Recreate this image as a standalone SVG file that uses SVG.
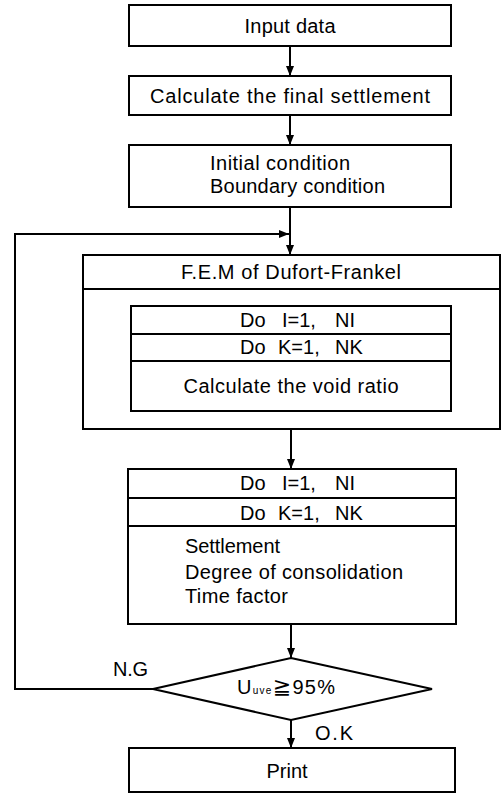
<svg xmlns="http://www.w3.org/2000/svg" width="504" height="795" viewBox="0 0 504 795">
<style>
.box{fill:none;stroke:#000;stroke-width:2}
.ln{fill:none;stroke:#000;stroke-width:2}
text{font-family:"Liberation Sans",Arial,sans-serif;font-size:20px;fill:#000}
.c{text-anchor:middle}
</style>
<defs>
<marker id="ah" viewBox="0 0 10 8" refX="10" refY="4" markerWidth="10" markerHeight="8" markerUnits="userSpaceOnUse" orient="auto">
<path d="M0,0 L10,4 L0,8 Z" fill="#000"/>
</marker>
</defs>
<rect width="504" height="795" fill="#fff"/>
<g id="connectors">
<line class="ln" x1="290" y1="46" x2="290" y2="76" marker-end="url(#ah)"/>
<line class="ln" x1="290" y1="115" x2="290" y2="145" marker-end="url(#ah)"/>
<line class="ln" x1="290" y1="207" x2="290" y2="255" marker-end="url(#ah)"/>
<polyline class="ln" points="153,689 15,689 15,234 289,234" marker-end="url(#ah)"/>
<line class="ln" x1="291" y1="429" x2="291" y2="469" marker-end="url(#ah)"/>
<line class="ln" x1="291" y1="624" x2="291" y2="658" marker-end="url(#ah)"/>
<line class="ln" x1="291" y1="720" x2="291" y2="748" marker-end="url(#ah)"/>
</g>
<g id="input">
<rect class="box" x="129" y="5" width="322" height="41"/>
<text class="c" x="290" y="33" textLength="91">Input data</text>
</g>
<g id="final">
<rect class="box" x="129" y="76" width="322" height="39"/>
<text class="c" x="290" y="103" textLength="280">Calculate the final settlement</text>
</g>
<g id="init">
<rect class="box" x="129" y="145" width="322" height="62"/>
<text x="210" y="170" textLength="140">Initial condition</text>
<text x="210" y="193" textLength="175">Boundary condition</text>
</g>
<g id="fem">
<rect class="box" x="83" y="255" width="417" height="174"/>
<line class="ln" x1="83" y1="289" x2="500" y2="289"/>
<text class="c" x="291" y="279" textLength="220">F.E.M of Dufort-Frankel</text>
</g>
<g id="inner">
<rect class="box" x="131" y="306" width="320" height="105"/>
<line class="ln" x1="131" y1="334" x2="451" y2="334"/>
<line class="ln" x1="131" y1="361" x2="451" y2="361"/>
<text y="327"><tspan x="240">Do</tspan><tspan x="282">I=1,</tspan><tspan x="335">NI</tspan></text>
<text y="354"><tspan x="240">Do</tspan><tspan x="278">K=1,</tspan><tspan x="335">NK</tspan></text>
<text class="c" x="291" y="393" textLength="215">Calculate the void ratio</text>
</g>
<g id="result">
<rect class="box" x="128" y="469" width="328" height="155"/>
<line class="ln" x1="128" y1="498" x2="456" y2="498"/>
<line class="ln" x1="128" y1="526" x2="456" y2="526"/>
<text y="490"><tspan x="240">Do</tspan><tspan x="282">I=1,</tspan><tspan x="335">NI</tspan></text>
<text y="520"><tspan x="240">Do</tspan><tspan x="278">K=1,</tspan><tspan x="335">NK</tspan></text>
<text x="185" y="553" textLength="95">Settlement</text>
<text x="185" y="579" textLength="218">Degree of consolidation</text>
<text x="185" y="603" textLength="103">Time factor</text>
</g>
<g id="decision">
<polygon class="box" points="291,658 432,689 291,720 153,689"/>
<text x="237" y="694" textLength="98">U<tspan font-size="10">uve</tspan><tspan font-family="DejaVu Sans,sans-serif" font-size="22">≧</tspan><tspan>95%</tspan></text>
<text x="113" y="676" font-size="18" textLength="35">N.G</text>
<text x="315" y="740" font-family="Liberation Serif,serif" font-size="19" textLength="38">O.K</text>
</g>
<g id="print">
<rect class="box" x="129" y="748" width="326" height="44"/>
<text class="c" x="287" y="778">Print</text>
</g>
</svg>
